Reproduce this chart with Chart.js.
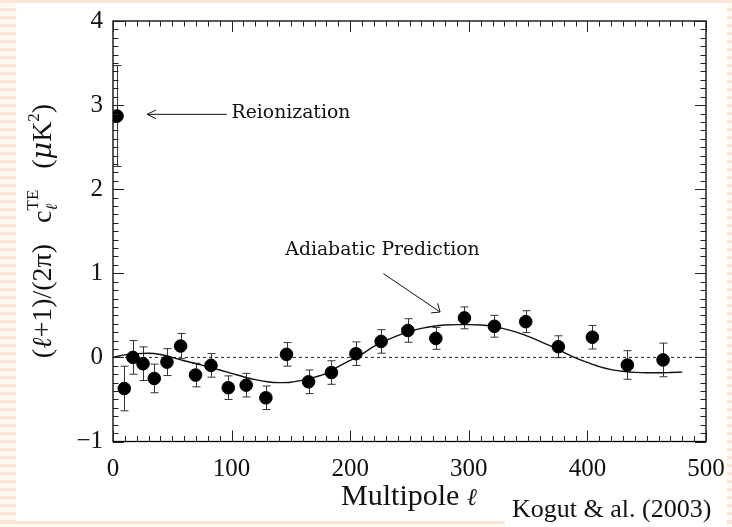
<!DOCTYPE html>
<html>
<head>
<meta charset="utf-8">
<script src="https://cdn.jsdelivr.net/npm/chart.js@4/dist/chart.umd.min.js"></script>
<style>
  html, body { margin:0; padding:0; background:#ffffff; }
  #wrap { position:relative; width:732px; height:527px; overflow:hidden; background:#ffffff; }
  .stripeL { position:absolute; left:0; top:0; width:16px; height:527px;
    background: repeating-linear-gradient(to bottom, #fbe4d3 0px, #fbe4d3 3px, #fffaf0 3px, #fffaf0 8px); }
  .stripeR { position:absolute; left:727px; top:0; width:5px; height:527px;
    background: repeating-linear-gradient(to bottom, #fbe4d3 0px, #fbe4d3 3px, #fffaf0 3px, #fffaf0 8px); }
  .bandT { position:absolute; left:0; top:0; width:732px; height:3px; background:#fbe6d8; }
  .bandB { position:absolute; left:0; top:521px; width:732px; height:6px;
    background: linear-gradient(to bottom, #fbe4d3 0px, #fbe4d3 3px, #fffaf0 3px); }
  canvas { position:absolute; left:0; top:0; }
</style>
</head>
<body>
<div id="wrap">
  <div class="stripeL"></div>
  <div class="stripeR"></div>
  <div class="bandT"></div>
  <div class="bandB"></div>
  <canvas id="c" width="732" height="527"></canvas>
</div>
<script>
// ---- data ----
const multipoles = [3.4, 9.5, 16.8, 25.3, 34.8, 45.5, 57, 69.6, 82.6, 97.2, 112.3, 128.9, 146.3, 164.9, 184.2, 204.8, 226.1, 248.6, 272.2, 296.3, 321.6, 348, 375.5, 404.2, 433.7, 463.8];
const cTE = [2.87, -0.37, 0.0, -0.075, -0.25, -0.056, 0.135, -0.21, -0.095, -0.36, -0.33, -0.48, 0.036, -0.29, -0.18, 0.044, 0.19, 0.32, 0.226, 0.47, 0.37, 0.425, 0.127, 0.24, -0.09, -0.03];
const cTEerr = [0.6, 0.265, 0.2, 0.2, 0.17, 0.16, 0.15, 0.14, 0.14, 0.14, 0.14, 0.14, 0.14, 0.14, 0.14, 0.14, 0.14, 0.14, 0.13, 0.13, 0.13, 0.13, 0.13, 0.14, 0.17, 0.2];

const modelL = [0, 10, 20, 30, 40, 50, 60, 70, 80, 90, 100, 110, 120, 130, 140, 150, 160, 170, 180, 190, 200, 210, 220, 230, 240, 250, 260, 270, 280, 290, 300, 310, 320, 330, 340, 350, 360, 370, 380, 390, 400, 410, 420, 430, 440, 450, 460, 470, 480];
const modelV = [0, 0.03, 0.045, 0.05, 0.035, 0.0, -0.04, -0.075, -0.11, -0.15, -0.19, -0.23, -0.265, -0.29, -0.30, -0.295, -0.27, -0.235, -0.19, -0.11, -0.035, 0.04, 0.13, 0.20, 0.26, 0.31, 0.345, 0.37, 0.385, 0.39, 0.39, 0.385, 0.37, 0.34, 0.30, 0.25, 0.19, 0.13, 0.06, -0.005, -0.06, -0.11, -0.145, -0.165, -0.178, -0.183, -0.183, -0.18, -0.175];

const zeroLineL = [0, 500];
const xTickValues = [0, 100, 200, 300, 400, 500];
const yTickValues = [-1, 0, 1, 2, 3, 4];

const xTitle = "Multipole";
const creditText = "Kogut & al. (2003)";
const reionLabel = "Reionization";
const adiabLabel = "Adiabatic Prediction";

// ---- chart ----
const SERIF = "'Liberation Serif', 'DejaVu Serif', serif";
const SERIF2 = "'DejaVu Serif', 'Liberation Serif', serif";

function arrow(ctx, x1, y1, x2, y2, head, spread) {
  ctx.beginPath();
  ctx.moveTo(x1, y1); ctx.lineTo(x2, y2);
  const a = Math.atan2(y1 - y2, x1 - x2);
  ctx.moveTo(x2 + head * Math.cos(a + spread), y2 + head * Math.sin(a + spread));
  ctx.lineTo(x2, y2);
  ctx.lineTo(x2 + head * Math.cos(a - spread), y2 + head * Math.sin(a - spread));
  ctx.stroke();
}

const framePlugin = {
  id: 'frame',
  beforeDatasetsDraw(chart) {
    const {ctx, scales: {x, y}} = chart;
    ctx.save();
    ctx.strokeStyle = '#333';
    ctx.lineWidth = 1;
    const cap = 4;
    for (let i = 0; i < multipoles.length; i++) {
      const px = Math.round(x.getPixelForValue(multipoles[i])) + 0.5;
      const top = y.getPixelForValue(cTE[i] + cTEerr[i]);
      const bot = y.getPixelForValue(cTE[i] - cTEerr[i]);
      ctx.beginPath();
      ctx.moveTo(px, top); ctx.lineTo(px, bot);
      ctx.moveTo(px - cap, top); ctx.lineTo(px + cap, top);
      ctx.moveTo(px - cap, bot); ctx.lineTo(px + cap, bot);
      ctx.stroke();
    }
    ctx.restore();
  },
  afterDraw(chart) {
    const {ctx, chartArea: a, scales: {x, y}} = chart;
    ctx.save();
    // white box behind the credit
    ctx.fillStyle = '#ffffff';
    ctx.fillRect(505, 486, 222, 41);
    ctx.strokeStyle = '#000';
    ctx.lineWidth = 1.3;
    ctx.strokeRect(a.left, a.top, a.right - a.left, a.bottom - a.top);
    ctx.lineWidth = 1;
    ctx.strokeStyle = '#222';
    ctx.beginPath();
    for (let v = 0; v <= 500; v += 10) {
      const px = Math.round(x.getPixelForValue(v)) + 0.5;
      const len = (v % 100 === 0) ? 11 : 5.5;
      ctx.moveTo(px, a.bottom); ctx.lineTo(px, a.bottom - len);
      ctx.moveTo(px, a.top); ctx.lineTo(px, a.top + len);
    }
    for (let k = -10; k <= 40; k++) {
      const v = k / 10;
      const py = Math.round(y.getPixelForValue(v)) + 0.5;
      const len = (k % 10 === 0) ? 11 : 5.5;
      ctx.moveTo(a.left, py); ctx.lineTo(a.left + len, py);
      ctx.moveTo(a.right, py); ctx.lineTo(a.right - len, py);
    }
    ctx.stroke();

    // annotations
    ctx.fillStyle = '#111';
    ctx.strokeStyle = '#111';
    ctx.lineWidth = 1;
    ctx.font = "18.8px " + SERIF2;
    ctx.textBaseline = 'middle';
    ctx.textAlign = 'left';
    ctx.fillText(reionLabel, x.getPixelForValue(100), y.getPixelForValue(2.91));
    arrow(ctx, x.getPixelForValue(96), y.getPixelForValue(2.89), x.getPixelForValue(28.7), y.getPixelForValue(2.89), 10, 0.45);
    ctx.fillText(adiabLabel, x.getPixelForValue(145.3), y.getPixelForValue(1.27));
    arrow(ctx, x.getPixelForValue(228), y.getPixelForValue(0.996), x.getPixelForValue(275.8), y.getPixelForValue(0.54), 9, 0.7);

    // x title
    ctx.textBaseline = 'alphabetic';
    ctx.font = "30px " + SERIF;
    const w1 = ctx.measureText(xTitle + " ").width;
    ctx.font = "italic 24px 'DejaVu Serif', serif";
    const w2 = ctx.measureText("ℓ").width;
    let sx = 409 - (w1 + w2) / 2;
    ctx.font = "30px " + SERIF;
    ctx.fillText(xTitle + " ", sx, 505);
    ctx.font = "italic 24px 'DejaVu Serif', serif";
    ctx.fillText("ℓ", sx + w1, 505);

    // credit
    ctx.font = "26px " + SERIF;
    ctx.fillText(creditText, 512, 517);

    // y title (rotated)
    ctx.translate(51, 231);
    ctx.rotate(-Math.PI / 2);
    const M = "28px " + SERIF, MI = "italic 27px 'DejaVu Serif', serif", S = "17px " + SERIF, SI = "italic 16px 'DejaVu Serif', serif";
    const parts = [
      [M, "(", 0], [MI, "ℓ", 0], [M, "+1)/(2", 0], [M, "π", 0], [M, ")   c", 0],
      [SI, "ℓ", 6, true], [S, "TE", -13], [M, "   (", 0], [MI, "μ", 0], [M, "K", 0], [S, "2", -12], [M, ")", 0]
    ];
    let total = 0, widths = [];
    let lastSub = 0;
    for (const p of parts) {
      ctx.font = p[0];
      const w = ctx.measureText(p[1]).width;
      widths.push(w);
    }
    let pos = 0; const starts = [];
    for (let i = 0; i < parts.length; i++) {
      if (parts[i][3]) { starts.push(pos); lastSub = widths[i]; continue; }
      if (i > 0 && parts[i - 1][3]) { starts.push(starts[i - 1]); pos = starts[i - 1] + Math.max(widths[i], lastSub); continue; }
      starts.push(pos); pos += widths[i];
    }
    total = pos;
    for (let i = 0; i < parts.length; i++) {
      ctx.font = parts[i][0];
      ctx.fillText(parts[i][1], starts[i] - total / 2, parts[i][2]);
    }
    ctx.restore();
  }
};

new Chart(document.getElementById('c'), {
  type: 'scatter',
  data: {
    datasets: [
      {
        label: 'WMAP TE',
        data: multipoles.map((l, i) => ({x: l, y: cTE[i]})),
        backgroundColor: '#000', borderColor: '#000',
        pointRadius: 6.3, pointHoverRadius: 6.3, showLine: false
      },
      {
        label: 'Adiabatic prediction',
        data: modelL.map((l, i) => ({x: l, y: modelV[i]})),
        showLine: true, borderColor: '#111', borderWidth: 1.4,
        pointRadius: 0, tension: 0.4, cubicInterpolationMode: 'monotone', fill: false
      },
      {
        label: 'zero',
        data: zeroLineL.map(l => ({x: l, y: 0})),
        showLine: true, borderColor: '#222', borderWidth: 1,
        borderDash: [3, 3], pointRadius: 0, fill: false
      }
    ]
  },
  options: {
    responsive: false,
    animation: false,
    devicePixelRatio: 1,
    layout: { padding: { left: 0, top: 21, right: 26, bottom: 0 } },
    plugins: { legend: { display: false }, tooltip: { enabled: false }, title: { display: false } },
    scales: {
      x: {
        type: 'linear', min: 0, max: 500,
        afterFit(s) { s.height = 85.5; s.paddingLeft = 0; s.paddingRight = 0; },
        afterBuildTicks(s) { s.ticks = xTickValues.map(v => ({value: v})); },
        grid: { display: false, drawTicks: false },
        border: { display: false },
        ticks: { color: '#111', padding: 13, font: { family: SERIF, size: 25 }, maxRotation: 0 }
      },
      y: {
        type: 'linear', min: -1, max: 4,
        afterFit(s) { s.width = 113; s.paddingTop = 0; s.paddingBottom = 0; },
        afterBuildTicks(s) { s.ticks = yTickValues.map(v => ({value: v})); },
        grid: { display: false, drawTicks: false },
        border: { display: false },
        ticks: { color: '#111', padding: 10, font: { family: SERIF, size: 25 },
          callback: v => (v < 0 ? '\u2212' + Math.abs(v) : String(v)) }
      }
    }
  },
  plugins: [framePlugin]
});
</script>
</body>
</html>
